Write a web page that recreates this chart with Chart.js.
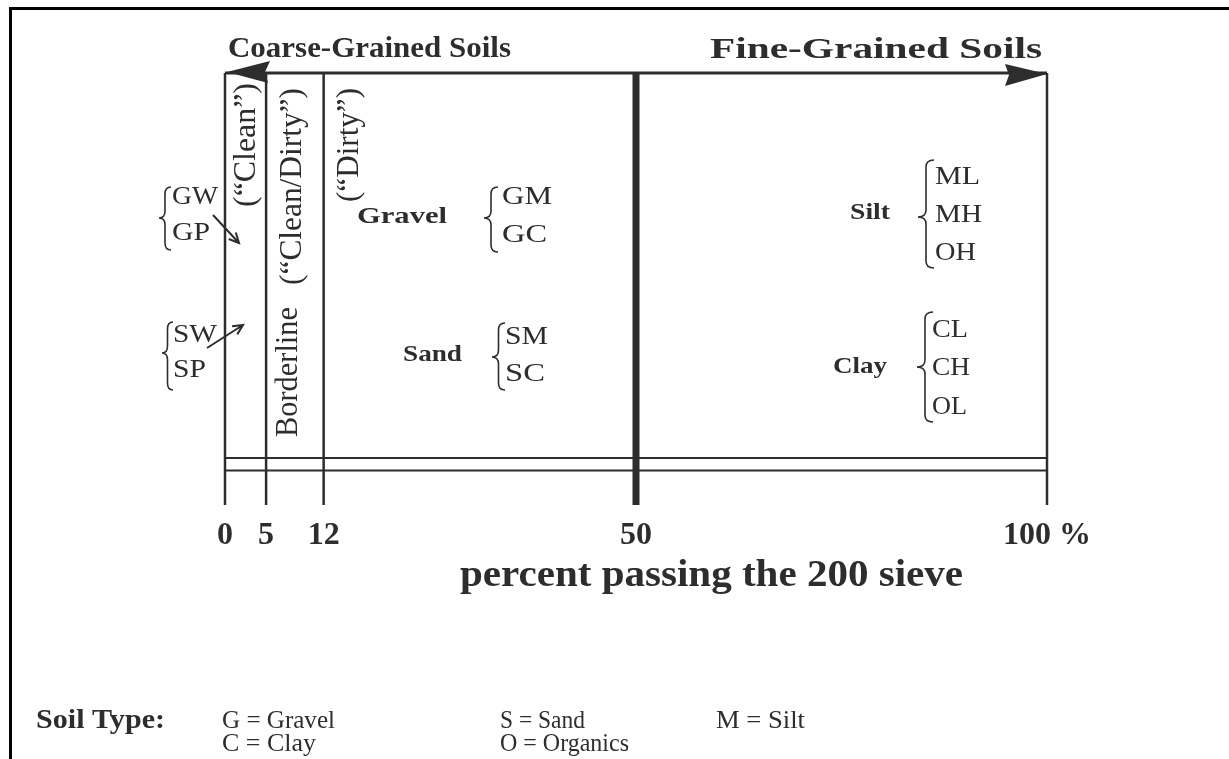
<!DOCTYPE html>
<html>
<head>
<meta charset="utf-8">
<script src="https://cdn.jsdelivr.net/npm/chart.js@4.4.1/dist/chart.umd.min.js"></script>
<style>
  html, body { margin: 0; padding: 0; background: #fff; }
  #wrap { width: 1229px; height: 759px; }
</style>
</head>
<body>
<div id="wrap"><canvas id="soilChart" width="1229" height="759"></canvas></div>
<script>
// limites no eixo: percentagem que passa na peneira 200
const boundaries = [0, 5, 12, 50, 100];
const tickLabels = ['0', '5', '12', '50', '100 %'];
const bandLevels = [10.9, 8.0]; // as duas linhas horizontais da base

// textos do diagrama
const axisTitle = 'percent passing the 200 sieve';
const groupTitles = ['Coarse-Grained Soils', 'Fine-Grained Soils'];
const zoneLabels = ['(\u201cClean\u201d)', 'Borderline', '(\u201cClean/Dirty\u201d)', '(\u201cDirty\u201d)'];
const cleanGravel = ['GW', 'GP'];
const cleanSand = ['SW', 'SP'];
const dirtyGravel = ['GM', 'GC'];
const dirtySand = ['SM', 'SC'];
const siltGroups = ['ML', 'MH', 'OH'];
const clayGroups = ['CL', 'CH', 'OL'];
const soilNames = ['Gravel', 'Sand', 'Silt', 'Clay'];
const legendTitle = 'Soil Type:';
const legendRow1 = ['G = Gravel', 'S = Sand', 'M = Silt'];
const legendRow2 = ['C = Clay', 'O = Organics'];

const ink = '#2d2d2d';
const serif = "'Liberation Serif', 'Times New Roman', serif";

function lineSet(points, width) {
    return {
        data: points,
        borderColor: ink,
        borderWidth: width,
        pointRadius: 0,
        borderCapStyle: 'butt',
        tension: 0,
        clip: false
    };
}

const datasets = [];
boundaries.forEach(b => datasets.push(lineSet([{ x: b, y: 0 }, { x: b, y: 100 }], b === 50 ? 7 : 2.5)));
bandLevels.forEach(lv => datasets.push(lineSet([{ x: 0, y: lv }, { x: 100, y: lv }], 2)));
datasets.push(lineSet([{ x: 0, y: 100 }, { x: 100, y: 100 }], 3)); // seta superior

// texto esticado entre xa e xb
function put(c, text, xa, xb, y, font, baseline) {
    c.save();
    c.font = font;
    c.textAlign = 'left';
    c.textBaseline = baseline || 'middle';
    const w = c.measureText(text).width;
    c.translate(xa, y);
    c.scale((xb - xa) / w, 1);
    c.fillText(text, 0, 0);
    c.restore();
}

// texto vertical, lido de baixo para cima
function putUp(c, text, xBase, yBottom, yTop, font) {
    c.save();
    c.font = font;
    c.textAlign = 'left';
    c.textBaseline = 'alphabetic';
    const w = c.measureText(text).width;
    c.translate(xBase, yBottom);
    c.rotate(-Math.PI / 2);
    c.scale((yBottom - yTop) / w, 1);
    c.fillText(text, 0, 0);
    c.restore();
}

function brace(c, xTip, xEnd, top, mid, bot) {
    const xs = (xTip + xEnd) / 2, r = 7;
    c.save();
    c.lineWidth = 1.6;
    c.beginPath();
    c.moveTo(xEnd, top);
    c.quadraticCurveTo(xs, top, xs, top + r);
    c.lineTo(xs, mid - r);
    c.quadraticCurveTo(xs, mid, xTip, mid);
    c.quadraticCurveTo(xs, mid, xs, mid + r);
    c.lineTo(xs, bot - r);
    c.quadraticCurveTo(xs, bot, xEnd, bot);
    c.stroke();
    c.restore();
}

function arrow(c, xa, ya, xb, yb) {
    const ang = Math.atan2(yb - ya, xb - xa), h = 11;
    c.save();
    c.lineWidth = 2;
    c.beginPath();
    c.moveTo(xa, ya);
    c.lineTo(xb, yb);
    c.moveTo(xb - h * Math.cos(ang - 0.45), yb - h * Math.sin(ang - 0.45));
    c.lineTo(xb, yb);
    c.lineTo(xb - h * Math.cos(ang + 0.45), yb - h * Math.sin(ang + 0.45));
    c.stroke();
    c.restore();
}

const soilText = {
    id: 'soilText',
    beforeDraw(chart) {
        const c = chart.ctx;
        c.save();
        c.fillStyle = '#fff';
        c.fillRect(0, 0, chart.width, chart.height);
        // moldura
        c.fillStyle = '#000';
        c.fillRect(9, 7, chart.width - 9, 3);
        c.fillRect(9, 7, 3, chart.height - 7);
        c.restore();
    },
    afterDatasetsDraw(chart) {
        const c = chart.ctx;
        const xs = chart.scales.x;
        const top = chart.chartArea.top;
        const xL = xs.getPixelForValue(boundaries[0]);
        const xR = xs.getPixelForValue(boundaries[boundaries.length - 1]);
        c.save();
        c.fillStyle = ink;
        c.strokeStyle = ink;

        // pontas da seta
        c.beginPath();
        c.moveTo(xL + 2, top - 1);
        c.lineTo(xL + 45, top - 12);
        c.lineTo(xL + 40, top - 1);
        c.lineTo(xL + 43, top + 10);
        c.closePath();
        c.fill();
        c.beginPath();
        c.moveTo(xR, top + 1);
        c.lineTo(xR - 42, top - 9);
        c.lineTo(xR - 38, top + 2);
        c.lineTo(xR - 42, top + 13);
        c.closePath();
        c.fill();

        const titleFont = 'bold 29px ' + serif;
        put(c, groupTitles[0], 228, 511, 57, titleFont, 'alphabetic');
        put(c, groupTitles[1], 710, 1042, 58, titleFont, 'alphabetic');

        const upFont = '31px ' + serif;
        putUp(c, zoneLabels[0], 255, 207, 83, upFont);
        putUp(c, zoneLabels[1], 297, 437, 307, upFont);
        putUp(c, zoneLabels[2], 301, 285, 88, upFont);
        putUp(c, zoneLabels[3], 358, 202, 88, upFont);

        const codeFont = '25px ' + serif;
        const nameFont = 'bold 24px ' + serif;

        // pedregulho / areia limpos
        brace(c, 159, 171, 187, 218, 250);
        put(c, cleanGravel[0], 172, 218, 197, codeFont);
        put(c, cleanGravel[1], 172, 210, 233, codeFont);
        arrow(c, 213, 215, 239, 243);
        brace(c, 162, 173, 322, 353, 390);
        put(c, cleanSand[0], 173, 217, 335, codeFont);
        put(c, cleanSand[1], 173, 206, 370, codeFont);
        arrow(c, 207, 348, 243, 325);

        // pedregulho / areia sujos
        put(c, soilNames[0], 357, 447, 217, nameFont);
        brace(c, 484, 498, 187, 218, 252);
        put(c, dirtyGravel[0], 502, 552, 197, codeFont);
        put(c, dirtyGravel[1], 502, 547, 235, codeFont);
        put(c, soilNames[1], 403, 462, 355, nameFont);
        brace(c, 492, 505, 323, 357, 390);
        put(c, dirtySand[0], 505, 548, 337, codeFont);
        put(c, dirtySand[1], 505, 545, 374, codeFont);

        // finos
        put(c, soilNames[2], 850, 890, 213, nameFont);
        brace(c, 918, 934, 160, 217, 268);
        put(c, siltGroups[0], 935, 980, 177, codeFont);
        put(c, siltGroups[1], 935, 982, 215, codeFont);
        put(c, siltGroups[2], 935, 976, 253, codeFont);
        put(c, soilNames[3], 833, 887, 367, nameFont);
        brace(c, 917, 933, 312, 367, 422);
        put(c, clayGroups[0], 932, 968, 330, codeFont);
        put(c, clayGroups[1], 932, 970, 368, codeFont);
        put(c, clayGroups[2], 932, 967, 407, codeFont);

        // titulo do eixo x
        put(c, axisTitle, 460, 963, 586, 'bold 38px ' + serif, 'alphabetic');

        // legenda dos tipos de solo
        const legFont = '26px ' + serif;
        put(c, legendTitle, 36, 165, 728, 'bold 27px ' + serif, 'alphabetic');
        put(c, legendRow1[0], 222, 335, 728, legFont, 'alphabetic');
        put(c, legendRow1[1], 500, 585, 728, legFont, 'alphabetic');
        put(c, legendRow1[2], 716, 805, 728, legFont, 'alphabetic');
        put(c, legendRow2[0], 222, 316, 751, legFont, 'alphabetic');
        put(c, legendRow2[1], 500, 629, 751, legFont, 'alphabetic');
        c.restore();
    }
};

new Chart(document.getElementById('soilChart'), {
    type: 'line',
    data: { datasets: datasets },
    options: {
        responsive: false,
        animation: false,
        devicePixelRatio: 1,
        layout: { padding: { left: 225, right: 182, top: 73, bottom: 192 } },
        plugins: {
            legend: { display: false },
            tooltip: { enabled: false }
        },
        scales: {
            x: {
                type: 'linear',
                min: 0,
                max: 100,
                afterBuildTicks: axis => { axis.ticks = boundaries.map(v => ({ value: v })); },
                ticks: {
                    callback: (v, i) => tickLabels[i],
                    font: { family: serif, size: 32, weight: 'bold', lineHeight: 1 },
                    color: ink,
                    padding: 15,
                    autoSkip: false,
                    maxRotation: 0
                },
                grid: { display: false, drawTicks: false },
                border: { display: false },
                title: { display: false }
            },
            y: { type: 'linear', min: 0, max: 100, display: false }
        }
    },
    plugins: [soilText]
});
</script>
</body>
</html>
